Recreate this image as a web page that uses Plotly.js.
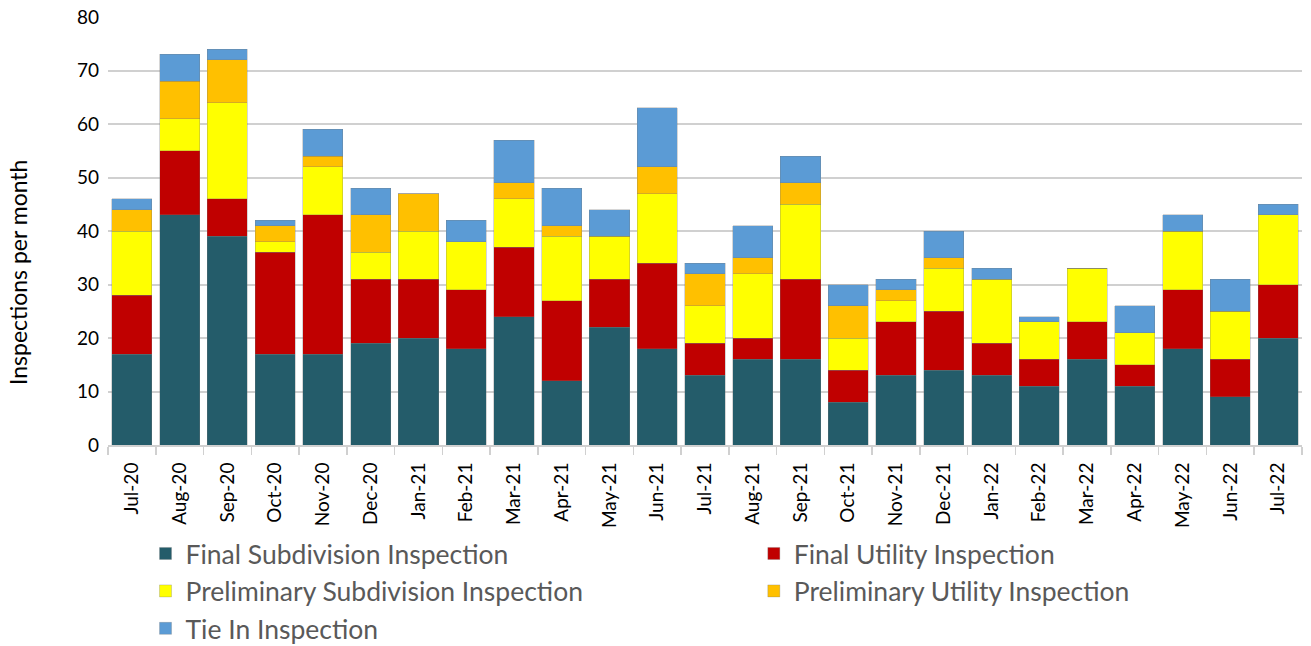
<!DOCTYPE html>
<html><head><meta charset="utf-8">
<script src="https://cdn.plot.ly/plotly-3.0.1.min.js"></script>
<style>html,body{margin:0;padding:0;background:#fff}#chart{width:1311px;height:646px}</style>
</head><body><div id="chart"></div>
<script>
const months = ["Jul-20","Aug-20","Sep-20","Oct-20","Nov-20","Dec-20","Jan-21","Feb-21","Mar-21","Apr-21","May-21","Jun-21","Jul-21","Aug-21","Sep-21","Oct-21","Nov-21","Dec-21","Jan-22","Feb-22","Mar-22","Apr-22","May-22","Jun-22","Jul-22"];
const finalSubdivision = [17,43,39,17,17,19,20,18,24,12,22,18,13,16,16,8,13,14,13,11,16,11,18,9,20];
const finalUtility     = [11,12,7,19,26,12,11,11,13,15,9,16,6,4,15,6,10,11,6,5,7,4,11,7,10];
const prelimSubdivision= [12,6,18,2,9,5,9,9,9,12,8,13,7,12,14,6,4,8,12,7,10,6,11,9,13];
const prelimUtility    = [4,7,8,3,2,7,7,0,3,2,0,5,6,3,4,6,2,2,0,0,0,0,0,0,0];
const tieIn            = [2,5,2,1,5,5,0,4,8,7,5,11,2,6,5,4,2,5,2,1,0,5,3,6,2];

const seriesNames = ["Final Subdivision Inspection","Final Utility Inspection","Preliminary Subdivision Inspection","Preliminary Utility Inspection","Tie In Inspection"];
const seriesData = [finalSubdivision, finalUtility, prelimSubdivision, prelimUtility, tieIn];
const colors = ["#245c6a","#c00000","#ffff00","#ffc000","#5b9bd5"];
const legendOf = ['legend','legend2','legend','legend2','legend'];
const yTitle = "Inspections per month";

const traces = seriesData.map((d,i)=>({
  type:'bar', name:seriesNames[i], x:months, y:d,
  legend:legendOf[i], legendgroup:'g'+i,
  marker:{color:colors[i], line:{color:'rgba(120,120,120,0.5)', width:0.6}},
  hoverinfo:'x+y+name'
}));

const font = "Lato, 'Open Sans', sans-serif";
const legendBase = {
  orientation:'v', xref:'container', yref:'container', xanchor:'left', yanchor:'top',
  font:{size:26.5, color:'#595959', family:font},
  traceorder:'normal', itemwidth:30, tracegroupgap:3, bgcolor:'rgba(0,0,0,0)'
};
const layout = {
  width:1311, height:646,
  margin:{l:108, r:9, t:17, b:201, autoexpand:false},
  barmode:'stack', bargap:0.16,
  paper_bgcolor:'#fff', plot_bgcolor:'#fff',
  font:{family:font, color:'#000'},
  xaxis:{
    type:'category', tickangle:-90, tickfont:{size:19, color:'#000'},
    ticks:'outside', tickson:'boundaries', ticklen:8, tickcolor:'#d0d0d0', tickwidth:1.5,
    ticklabelstandoff:8,
    showline:true, linecolor:'#d0d0d0', linewidth:2, showgrid:false, fixedrange:true
  },
  yaxis:{
    range:[0,80], dtick:10, tickfont:{size:19, color:'#000'},
    showgrid:true, gridcolor:'#d0d0d0', gridwidth:2, zeroline:false,
    showline:false, ticklabelstandoff:8
  },
  annotations:[{
    text:yTitle, textangle:-90, showarrow:false,
    xref:'paper', yref:'paper', x:-0.0754, y:0.404, xanchor:'center', yanchor:'middle',
    font:{size:23, color:'#000', family:font}
  }],
  legend:Object.assign({}, legendBase, {x:0.111, y:0.18}),
  legend2:Object.assign({}, legendBase, {x:0.575, y:0.18}),
  showlegend:true
};
Plotly.newPlot('chart', traces, layout, {displayModeBar:false, staticPlot:true});
</script></body></html>
